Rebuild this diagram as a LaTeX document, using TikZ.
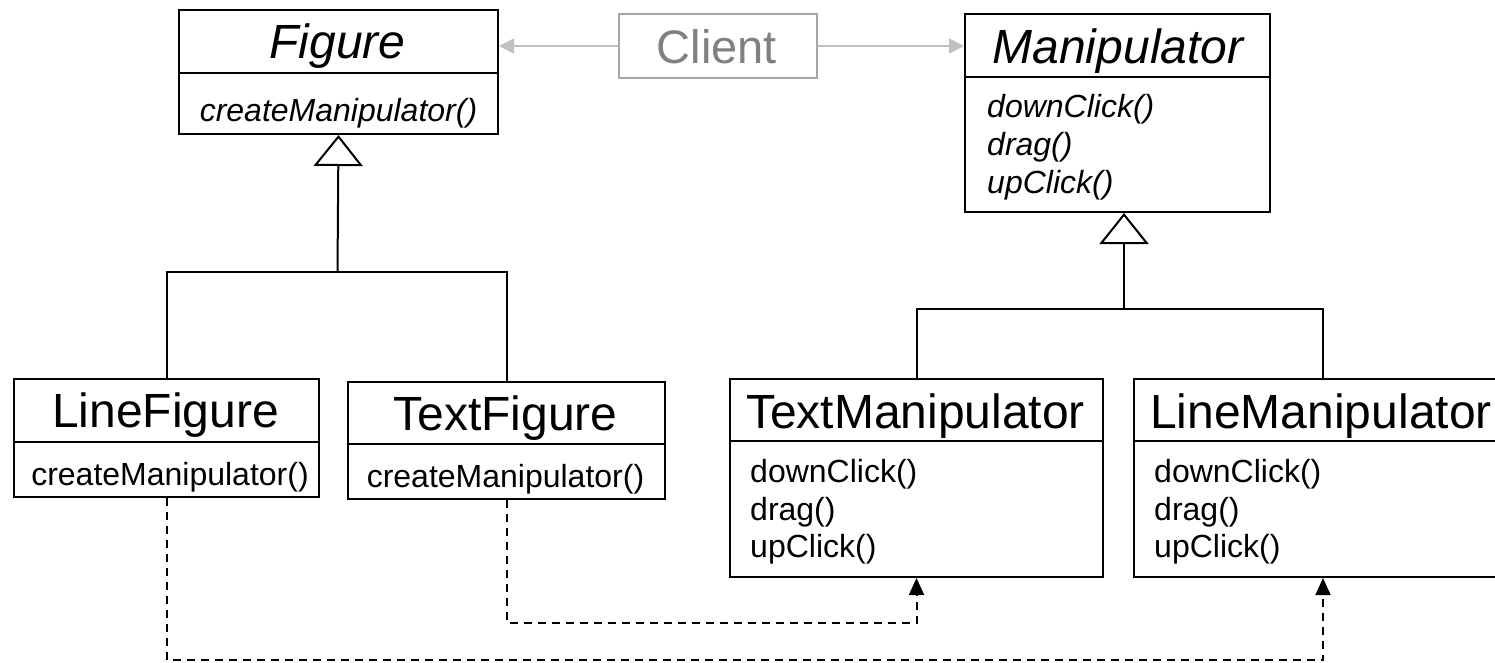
\documentclass[tikz,border=0pt]{standalone}
\usepackage{fontspec}
\setmainfont{Liberation Sans}
\usetikzlibrary{arrows.meta}
\definecolor{clitext}{HTML}{808080}
\definecolor{cliborder}{HTML}{A6A6A6}
\definecolor{cliarrow}{HTML}{C0C0C0}
\begin{document}
\begin{tikzpicture}[x=1pt,y=-1pt,
  box/.style={draw=black, line width=2pt, inner sep=0pt, anchor=north west},
  divider/.style={draw=black, line width=2pt},
  title/.style={inner sep=0pt, anchor=base, font=\fontsize{48}{56}\selectfont},
  clititle/.style={inner sep=0pt, anchor=base, font=\fontsize{47}{56}\selectfont, text=clitext},
  meth/.style={inner sep=0pt, anchor=base, font=\fontsize{32}{38}\selectfont},
  methl/.style={inner sep=0pt, anchor=base west, font=\fontsize{32}{38}\selectfont},
  tree/.style={draw=black, line width=2pt},
  gen/.style={draw=black, line width=2pt, -{Triangle[open, length=31pt, width=49pt, line width=2pt]}},
  dep/.style={draw=black, line width=2pt, dash pattern=on 8pt off 6pt, -{Triangle[length=17pt, width=15pt]}},
  garrow/.style={draw=cliarrow, line width=1.8pt, -{Triangle[length=15pt, width=15pt]}}
]
\useasboundingbox (0,0) rectangle (1495,662);
\clip (0,0) rectangle (1495,662);

% Figure
\node[box, minimum width=319pt, minimum height=124pt] (fig) at (178,9) {};
\draw[divider] (178,73) -- (497,73);
\node[title] (figT) at (337.5,58) {\itshape Figure};
\node[meth] (figM) at (338.5,121) {\itshape createManipulator()};

% Client
\node[box, draw=cliborder, minimum width=198pt, minimum height=64pt] (cli) at (618,13) {};
\node[clititle] (cliT) at (717,63) {Client};

% Manipulator
\node[box, minimum width=305pt, minimum height=198pt] (man) at (964,13) {};
\draw[divider] (964,77) -- (1269,77);
\node[title] (manT) at (1118,63) {\itshape Manipulator};
\node[methl] (manM1) at (987,117) {\itshape downClick()};
\node[methl] (manM2) at (987,155) {\itshape drag()};
\node[methl] (manM3) at (987,193) {\itshape upClick()};

% LineFigure
\node[box, minimum width=305pt, minimum height=118pt] (lf) at (13,378) {};
\draw[divider] (13,442) -- (318,442);
\node[title] (lfT) at (165.5,427) {LineFigure};
\node[meth] (lfM) at (170,485) {createManipulator()};

% TextFigure
\node[box, minimum width=317pt, minimum height=117pt] (tf) at (347,381) {};
\draw[divider] (347,444) -- (664,444);
\node[title] (tfT) at (505.5,430) {TextFigure};
\node[meth] (tfM) at (505.5,487) {createManipulator()};

% TextManipulator
\node[box, minimum width=373pt, minimum height=198pt] (tm) at (729,378) {};
\draw[divider] (729,441) -- (1102,441);
\node[title] (tmT) at (915.5,428) {TextManipulator};
\node[methl] (tmM1) at (750,482) {downClick()};
\node[methl] (tmM2) at (750,520) {drag()};
\node[methl] (tmM3) at (750,557) {upClick()};

% LineManipulator
\node[box, minimum width=378pt, minimum height=198pt] (lm) at (1133,378) {};
\draw[divider] (1133,441) -- (1511,441);
\node[title] (lmT) at (1321,428) {LineManipulator};
\node[methl] (lmM1) at (1154,482) {downClick()};
\node[methl] (lmM2) at (1154,520) {drag()};
\node[methl] (lmM3) at (1154,557) {upClick()};

% Client associations
\draw[garrow] (cli.west) -- (fig.east |- cli.west);
\draw[garrow] (cli.east) -- (man.west |- cli.east);

% Figure generalization
\coordinate (fj) at (337.5,272);
\draw[gen] (fj) -- (fig.south);
\draw[tree] (lf.north) |- (fj) -| (tf.north);

% Manipulator generalization
\coordinate (mj) at (1124,309);
\draw[gen] (mj) -- (man.south -| mj);
\draw[tree] (tm.north) |- (mj) -| (lm.north);

% Dependencies
\coordinate (upY) at (0,623);
\coordinate (lowY) at (0,660);
\draw[dep] (tf.south) |- (tm.south |- upY) -- (tm.south);
\draw[dep] (lf.south) |- (lm.south |- lowY) -- (lm.south);
\end{tikzpicture}
\end{document}
